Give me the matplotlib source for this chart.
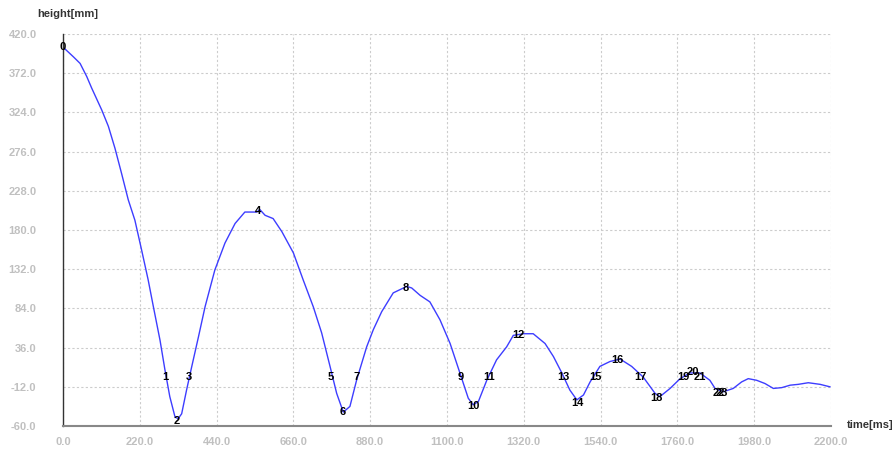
import matplotlib
matplotlib.use("Agg")
import matplotlib.pyplot as plt

# time [ms] and height [mm]
time_ms = [0, 30, 49, 68, 82, 111, 130, 149, 168, 187, 206, 225, 244, 259, 278,
           292, 306, 321, 330, 340, 354, 369, 388, 407, 435, 464, 493, 521, 536,
           555, 564, 579, 602, 627, 660, 688, 717, 741, 765, 784, 803, 822, 841,
           870, 889, 913, 946, 985, 999, 1023, 1051, 1080, 1109, 1137, 1161,
           1175, 1190, 1214, 1242, 1271, 1290, 1319, 1347, 1381, 1405, 1429,
           1452, 1472, 1491, 1510, 1538, 1567, 1596, 1629, 1662, 1696, 1710,
           1739, 1768, 1796, 1825, 1834, 1853, 1868, 1892, 1920, 1944, 1963,
           1987, 2011, 2035, 2059, 2083, 2106, 2135, 2169, 2197]
height_mm = [404, 392, 384, 368, 354, 327, 307, 280, 249, 217, 192, 156, 119,
             86, 45, 9, -24, -49, -51, -45, -16, 13, 49, 86, 131, 164, 188, 202,
             202, 202, 205, 198, 194, 178, 152, 119, 86, 54, 13, -20, -43, -36,
             -4, 37, 58, 80, 103, 111, 109, 100, 92, 70, 41, 5, -26, -34, -30,
             -4, 21, 37, 51, 53, 53, 41, 25, 5, -16, -28, -22, -6, 13, 19, 22,
             13, 0, -20, -24, -14, -2, 5, 5, 2, -4, -14, -18, -14, -6, -2, -4,
             -8, -14, -13, -10, -9, -7, -9, -12]

# numbered event markers
mark_labels = [str(i) for i in range(24)]
mark_t = [0, 292, 327, 361, 559, 768, 802, 842, 983, 1140, 1175, 1221, 1304,
          1433, 1473, 1524, 1587, 1653, 1699, 1776, 1805, 1825, 1880, 1886]
mark_h = [404, 0, -54, 0, 203, 0, -43, 0, 109, 0, -36, 0, 51, 0, -32, 0, 21,
          0, -26, 0, 6, 0, -20, -20]

xticks = [0, 220, 440, 660, 880, 1100, 1320, 1540, 1760, 1980, 2200]
yticks = [420, 372, 324, 276, 228, 180, 132, 84, 36, -12, -60]

plt.rcParams['font.family'] = ['Liberation Sans', 'DejaVu Sans']
fig = plt.figure(figsize=(8.92, 4.51), dpi=100)
ax = fig.add_axes([0.0706, 0.0554, 0.861, 0.8692])

ax.plot(time_ms, height_mm, color='#3d3dff', lw=1)
for lab, t, h in zip(mark_labels, mark_t, mark_h):
    ax.text(t, h, lab, fontsize=8, fontweight='bold', color='black',
            ha='center', va='center')

ax.set_xlim(0, 2200)
ax.set_ylim(-60, 420)
ax.set_xticks(xticks)
ax.set_yticks(yticks)
ax.set_xticklabels(['%.1f' % v for v in xticks])
ax.set_yticklabels(['%.1f' % v for v in yticks])
ax.tick_params(length=0, labelsize=8, labelcolor='#c0c0c0')
ax.tick_params(axis='x', pad=8)
ax.tick_params(axis='y', pad=19)
for lab in ax.get_xticklabels() + ax.get_yticklabels():
    lab.set_fontweight('bold')
ax.grid(True, color='#cccccc', linestyle=(0, (2, 2)), lw=0.8)

ax.spines['top'].set_visible(False)
ax.spines['right'].set_visible(False)
ax.spines['left'].set_color('#333333')
ax.spines['left'].set_linewidth(1)
ax.spines['bottom'].set_color('#888888')
ax.spines['bottom'].set_linewidth(1.5)

fig.text(37 / 892, 1 - 14 / 451, 'height[mm]', fontsize=8, fontweight='bold',
         color='#333333', va='center', ha='left')
fig.text(847 / 892, 1 - 425 / 451, 'time[ms]', fontsize=8, fontweight='bold',
         color='#333333', va='center', ha='left')

fig.savefig('out.png', dpi=100)
